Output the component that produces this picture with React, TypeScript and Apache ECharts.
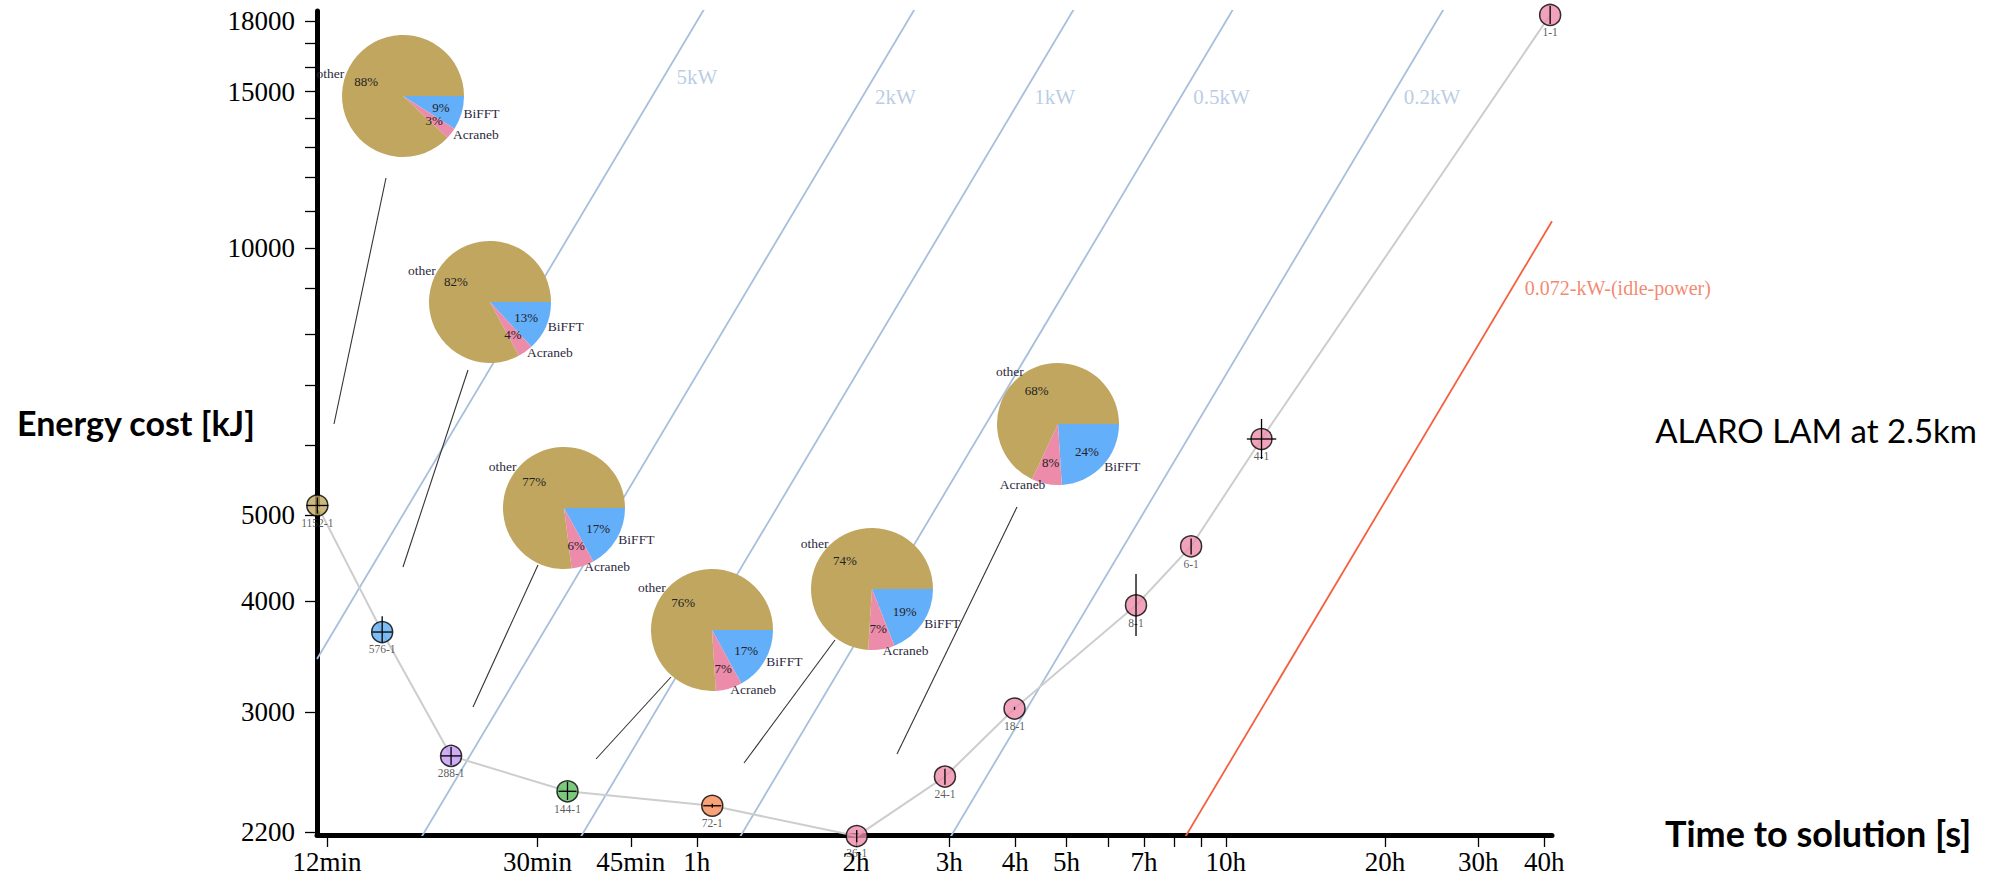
import React, { useEffect, useRef } from 'react';
import * as echarts from 'echarts';

// ---- runs (MPI tasks - threads) ----
const runLabels = ['1152-1', '576-1', '288-1', '144-1', '72-1', '36-1', '24-1', '18-1', '8-1', '6-1', '4-1', '1-1'];
const runTimeSec = [690, 915, 1235, 2050, 3850, 7220, 10600, 14350, 24350, 30950, 42050, 147700];
const runEnergyKJ = [5130, 3695, 2680, 2445, 2355, 2177, 2540, 3030, 3960, 4615, 6095, 18300];
const runTimeLow = [658, 876, 1182, 1971, 3702, 7220, 10600, 14350, 24350, 30950, 39450, 147700];
const runTimeHigh = [724, 956, 1290, 2132, 4004, 7220, 10600, 14350, 24350, 30950, 44830, 147700];
const runEnergyLow = [5025, 3598, 2617, 2391, 2343, 2143, 2487, 3020, 3656, 4518, 5787, 17878];
const runEnergyHigh = [5237, 3850, 2742, 2505, 2367, 2211, 2592, 3044, 4294, 4710, 6420, 18732];

// ---- constant-power reference lines ----
const powerKW = [5, 2, 1, 0.5, 0.2];
const powerNames = ['5kW', '2kW', '1kW', '0.5kW', '0.2kW'];
const idlePowerKW = 0.072;
const idleName = '0.072-kW-(idle-power)';

// ---- cost breakdown per run (percent) ----
const pieNames = ['BiFFT', 'Acraneb', 'other'];
const pieBiFFT = [9, 13, 17, 17, 19, 24];
const pieAcraneb = [3, 4, 6, 7, 7, 8];
const pieOther = [88, 82, 77, 76, 74, 68];

// ---- axes ----
const xRangeSec = [689, 148900];
const yRangeKJ = [2183, 18490];
const xTickSec = [720, 1800, 2700, 3600, 7200, 10800, 14400, 18000, 21600, 25200, 28800, 32400, 36000, 72000, 108000, 144000];
const xLabelSec = [720, 1800, 2700, 3600, 7200, 10800, 14400, 18000, 25200, 36000, 72000, 108000, 144000];
const xLabelText = ['12min', '30min', '45min', '1h', '2h', '3h', '4h', '5h', '7h', '10h', '20h', '30h', '40h'];
const yTickKJ = [2200, 3000, 4000, 5000, 6000, 7000, 8000, 9000, 10000, 11000, 12000, 13000, 14000, 15000, 16000, 17000, 18000];
const yLabelKJ = [2200, 3000, 4000, 5000, 10000, 15000, 18000];

// ---- styling / layout ----
const SERIF = '"Liberation Serif", "Times New Roman", serif';
const SANS = 'Lato, "Open Sans", sans-serif';
const runColors = ['#c1a660', '#5eabf4', '#c39af3', '#5cba5f', '#f88a58', '#ec8caa', '#ec8caa', '#ec8caa', '#ec8caa', '#ec8caa', '#ec8caa', '#ec8caa'];
const pieColors = ['#64affa', '#ec8caa', '#c1a660'];
const pieCenters = [[403, 96], [490, 302], [564, 508], [712, 630], [872, 589], [1058, 424]];
const pieRadius = 61;
const leaderLines = [
  [386, 178, 334, 424],
  [468, 370, 403, 567],
  [538, 565, 473, 707],
  [671, 677, 596, 759],
  [835, 640, 744, 763],
  [1017, 507, 897, 754],
];
const powerLabelKJ = [15600, 14800, 14800, 14800, 14800];
const idleLabelKJ = 9020;

const L = Math.log10;
const near = (a: number, b: number) => Math.abs(a - b) < 1e-6;

export default function App() {
  const ref = useRef<HTMLDivElement>(null);

  useEffect(() => {
    if (!ref.current) return;
    const chart = echarts.init(ref.current, undefined, { renderer: 'svg' });

    const xMin = L(xRangeSec[0]);
    const xMax = L(xRangeSec[1]);

    const powerLineSeries = powerKW.map((p, i) => ({
      type: 'line',
      name: powerNames[i],
      data: [
        [xMin, xMin + L(p)],
        [xMax, xMax + L(p)],
      ],
      symbol: 'none',
      lineStyle: { color: '#a7bfdc', width: 1.8 },
      silent: true,
      z: 1,
    }));

    const idleSeries = {
      type: 'line',
      name: idleName,
      data: [
        [xMin, xMin + L(idlePowerKW)],
        [xMax, xMax + L(idlePowerKW)],
      ],
      symbol: 'none',
      lineStyle: { color: '#f4613f', width: 1.8 },
      silent: true,
      z: 1,
    };

    const powerLabelSeries = {
      type: 'scatter',
      data: [
        ...powerKW.map((p, i) => ({
          value: [L(powerLabelKJ[i] / p), L(powerLabelKJ[i])],
          name: powerNames[i],
          label: { color: '#a9c0dd' },
        })),
        {
          value: [L(idleLabelKJ / idlePowerKW), L(idleLabelKJ)],
          name: idleName,
          label: { color: '#f2694a', fontSize: 20 },
        },
      ],
      symbolSize: 1,
      itemStyle: { color: 'rgba(0,0,0,0)' },
      label: {
        show: true,
        position: 'right',
        distance: 12,
        formatter: '{b}',
        fontFamily: SERIF,
        fontSize: 21,
      },
      silent: true,
      z: 3,
    };

    const runCoords = runTimeSec.map((t, i) => [L(t), L(runEnergyKJ[i])]);

    const pathSeries = {
      type: 'line',
      data: runCoords,
      symbol: 'none',
      lineStyle: { color: '#cdcdcd', width: 2 },
      clip: false,
      silent: true,
      z: 2,
    };

    const pointSeries = {
      type: 'scatter',
      data: runCoords.map((c, i) => ({
        value: c,
        name: runLabels[i],
        itemStyle: { color: runColors[i] },
      })),
      symbol: 'circle',
      symbolSize: 21,
      itemStyle: { borderColor: '#000', borderWidth: 1.5 },
      label: {
        show: true,
        position: 'bottom',
        distance: 0,
        formatter: '{b}',
        fontFamily: SERIF,
        fontSize: 11.5,
        color: '#333',
      },
      clip: false,
      z: 4,
    };

    const errorSeries = {
      type: 'custom',
      data: runTimeSec.map((t, i) => [
        L(t),
        L(runEnergyKJ[i]),
        L(runTimeLow[i]),
        L(runTimeHigh[i]),
        L(runEnergyLow[i]),
        L(runEnergyHigh[i]),
      ]),
      encode: { x: 0, y: 1 },
      renderItem: (_params: any, api: any) => {
        const c = api.coord([api.value(0), api.value(1)]);
        const l = api.coord([api.value(2), api.value(1)]);
        const r = api.coord([api.value(3), api.value(1)]);
        const lo = api.coord([api.value(0), api.value(4)]);
        const hi = api.coord([api.value(0), api.value(5)]);
        const style = { stroke: '#000', lineWidth: 1.3 };
        const children: any[] = [];
        if (r[0] - l[0] > 0.5) {
          children.push({ type: 'line', shape: { x1: l[0], y1: c[1], x2: r[0], y2: c[1] }, style });
        }
        children.push({ type: 'line', shape: { x1: c[0], y1: lo[1], x2: c[0], y2: hi[1] }, style });
        return { type: 'group', children };
      },
      silent: true,
      z: 5,
    };

    const pieSeries: any[] = [];
    pieCenters.forEach((center, k) => {
      const values = [pieBiFFT[k], pieAcraneb[k], pieOther[k]];
      pieSeries.push({
        type: 'pie',
        center,
        radius: pieRadius,
        startAngle: 0,
        clockwise: true,
        avoidLabelOverlap: false,
        silent: true,
        data: values.map((v, j) => ({ name: pieNames[j], value: v, itemStyle: { color: pieColors[j] } })),
        label: {
          show: true,
          position: 'outside',
          formatter: '{b}',
          fontFamily: SERIF,
          fontSize: 13.5,
          color: '#2e2a40',
          distanceToLabelLine: 1,
        },
        labelLine: { show: false, length: 1, length2: 0 },
        emphasis: { disabled: true },
        z: 6,
      });
      pieSeries.push({
        type: 'pie',
        center,
        radius: pieRadius * 1.2,
        startAngle: 0,
        clockwise: true,
        silent: true,
        data: values.map((v, j) => ({ name: pieNames[j], value: v })),
        itemStyle: { color: 'rgba(0,0,0,0)' },
        label: {
          show: true,
          position: 'inside',
          formatter: '{c}%',
          fontFamily: SERIF,
          fontSize: 13,
          color: '#222',
        },
        labelLine: { show: false },
        emphasis: { disabled: true },
        z: 7,
      });
    });

    chart.setOption({
      animation: false,
      backgroundColor: '#fff',
      grid: { left: 317, right: 450, top: 11, bottom: 48, containLabel: false, outerBoundsMode: 'none' },
      xAxis: {
        type: 'value',
        min: xMin,
        max: xMax,
        axisLine: { show: true, onZero: false, lineStyle: { color: '#000', width: 5, cap: 'round' } },
        axisTick: { show: true, length: 12, customValues: xTickSec.map(L), lineStyle: { color: '#000', width: 1.3 } },
        axisLabel: {
          customValues: xLabelSec.map(L),
          formatter: (v: number) => {
            const i = xLabelSec.findIndex((s) => near(L(s), v));
            return i >= 0 ? xLabelText[i] : '';
          },
          fontFamily: SERIF,
          fontSize: 27,
          color: '#000',
          margin: 13,
        },
        splitLine: { show: false },
      },
      yAxis: {
        type: 'value',
        min: L(yRangeKJ[0]),
        max: L(yRangeKJ[1]),
        axisLine: { show: true, onZero: false, lineStyle: { color: '#000', width: 5 } },
        axisTick: { show: true, length: 12, customValues: yTickKJ.map(L), lineStyle: { color: '#000', width: 1.3 } },
        axisLabel: {
          customValues: yLabelKJ.map(L),
          formatter: (v: number) => {
            const i = yLabelKJ.findIndex((e) => near(L(e), v));
            return i >= 0 ? String(yLabelKJ[i]) : '';
          },
          fontFamily: SERIF,
          fontSize: 27,
          color: '#000',
          margin: 22,
        },
        splitLine: { show: false },
      },
      graphic: [
        ...leaderLines.map(([x1, y1, x2, y2]) => ({
          type: 'line',
          shape: { x1, y1, x2, y2 },
          style: { stroke: '#333', lineWidth: 1.1 },
          silent: true,
          z: 3,
        })),
        {
          type: 'text',
          x: 17,
          y: 422,
          style: { text: 'Energy cost [kJ]', fontFamily: SANS, fontWeight: 'bold', fontSize: 34, fill: '#000', align: 'left', verticalAlign: 'middle' },
        },
        {
          type: 'text',
          x: 1665,
          y: 833,
          style: { text: 'Time to solution [s]', fontFamily: SANS, fontWeight: 'bold', fontSize: 36, fill: '#000', align: 'left', verticalAlign: 'middle' },
        },
        {
          type: 'text',
          x: 1977,
          y: 430,
          style: { text: 'ALARO LAM at 2.5km', fontFamily: SANS, fontSize: 33, fill: '#000', align: 'right', verticalAlign: 'middle' },
        },
      ],
      series: [...powerLineSeries, idleSeries, powerLabelSeries, pathSeries, pointSeries, errorSeries, ...pieSeries],
    });

    return () => chart.dispose();
  }, []);

  return <div ref={ref} style={{ position: 'fixed', left: 0, top: 0, width: 2002, height: 883 }} />;
}
